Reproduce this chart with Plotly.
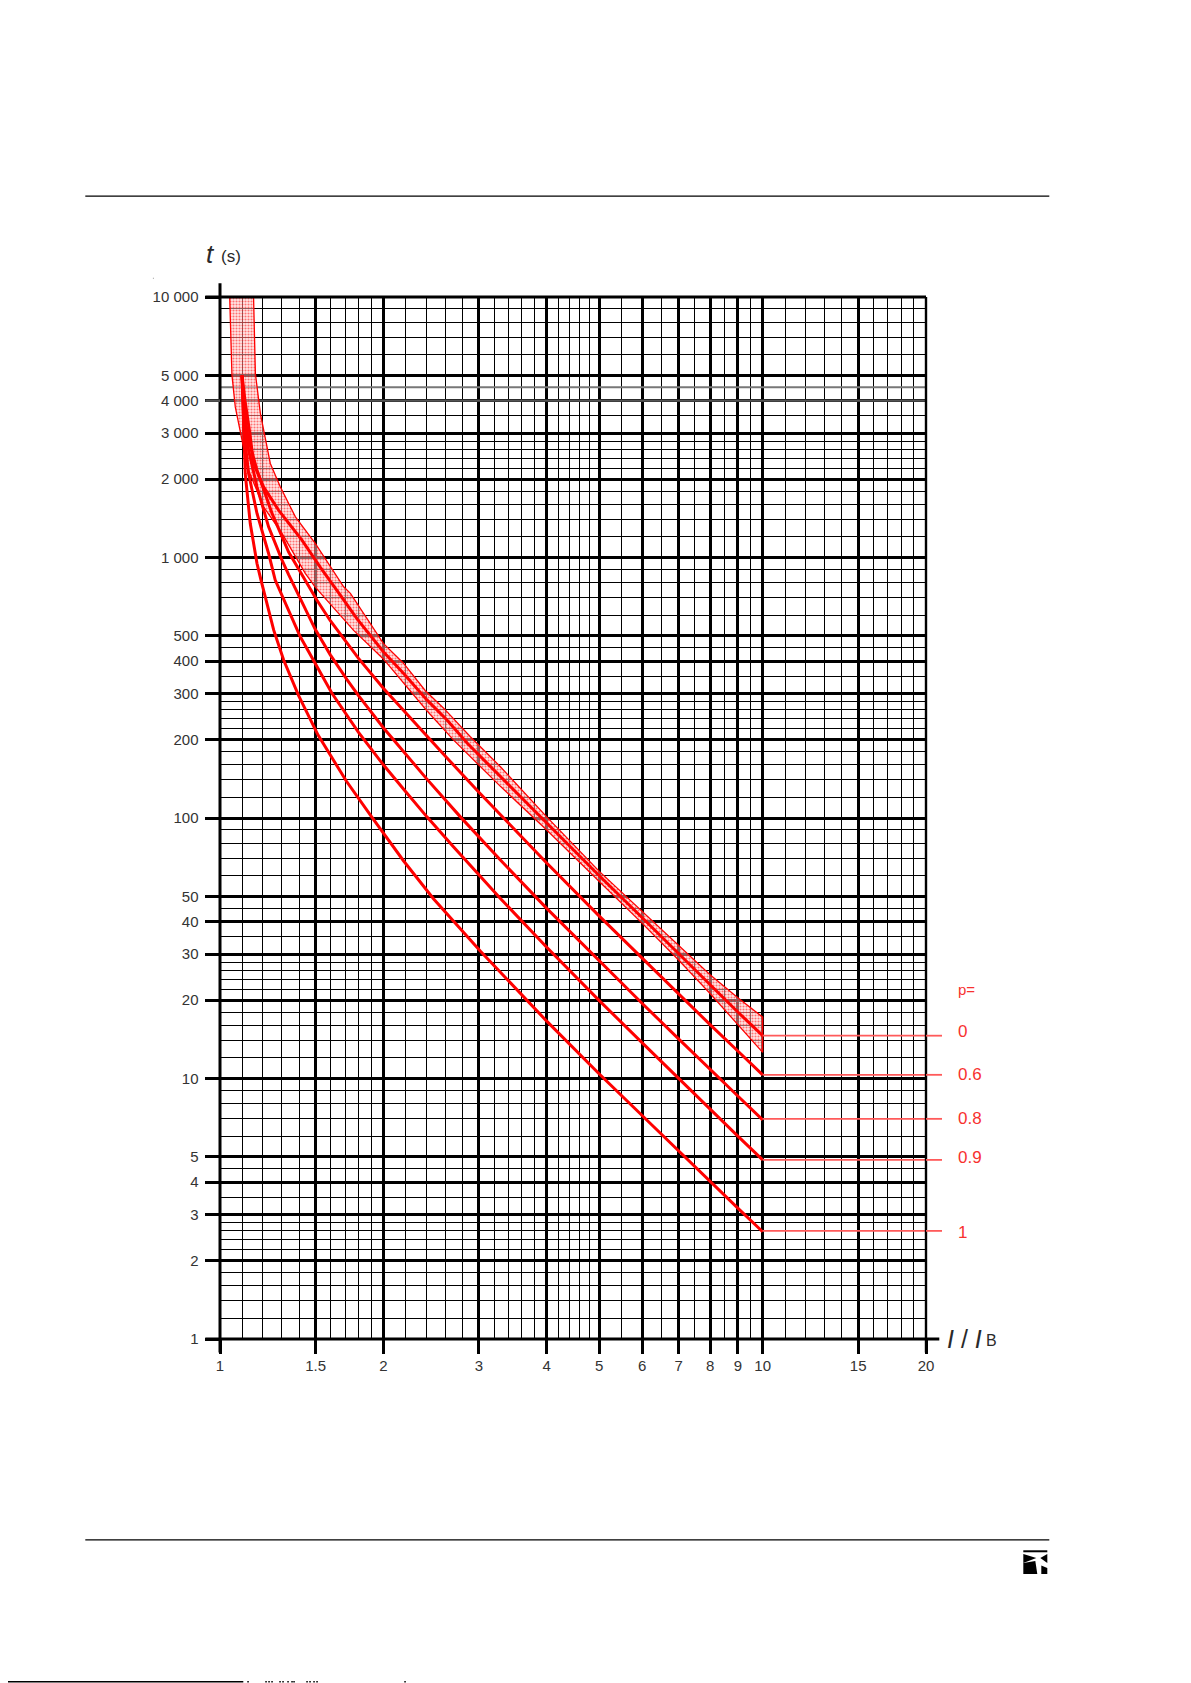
import math
import plotly.graph_objects as go

# page offset: the browser puts an 8px body margin round the figure
PAGE_OFFSET = 8
FIG_W = 1191 - PAGE_OFFSET
FIG_H = 1683 - PAGE_OFFSET

# plot box in page pixels
LEFT, RIGHT, TOP, BOTTOM = 219.7, 925.7, 296.7, 1339.3

# axis ticks
x_ticks = [1, 1.5, 2, 3, 4, 5, 6, 7, 8, 9, 10, 15, 20]
x_labels = ['1', '1.5', '2', '3', '4', '5', '6', '7', '8', '9', '10', '15', '20']
x_minor = [1.1, 1.2, 1.3, 1.4, 1.6, 1.7, 1.8, 1.9, 2.2, 2.4, 2.6, 2.8,
           3.2, 3.4, 3.6, 3.8, 4.2, 4.4, 4.6, 4.8, 5.5, 6.5, 7.5, 8.5, 9.5,
           11, 12, 13, 14, 16, 17, 18, 19]
y_ticks = [1, 2, 3, 4, 5, 10, 20, 30, 40, 50, 100, 200, 300, 400, 500,
           1000, 2000, 3000, 4000, 5000, 10000]
y_labels = ['1', '2', '3', '4', '5', '10', '20', '30', '40', '50', '100', '200', '300', '400', '500',
            '1 000', '2 000', '3 000', '4 000', '5 000', '10 000']
y_minor_mult = [1.2, 1.4, 1.6, 1.8, 2.2, 2.4, 2.6, 2.8, 3.5, 4.5, 6, 7, 8, 9]
y_minor = [m * d for d in (1, 10, 100, 1000) for m in y_minor_mult]

# tolerance band round the p=0 curve
band_top_x = [1.153, 1.162, 1.187, 1.203, 1.238, 1.292, 1.377, 1.498, 1.69, 1.739, 1.906, 2, 2.18,
              2.39, 2.583, 2.893, 3.29, 4, 5, 6, 7, 8, 9, 10]
band_top_t = [10000, 5083, 3570, 3081, 2296, 1866, 1432, 1132, 772, 728, 542, 468, 392,
              308, 264, 205, 157, 101, 62.4, 43.8, 32.4, 25, 20.4, 17.2]
band_bot_x = [1.042, 1.052, 1.067, 1.098, 1.122, 1.203, 1.301, 1.436, 1.498, 1.586, 1.763, 2, 2.21,
              2.406, 2.695, 3.02, 3.29, 4, 5, 6, 7, 8, 9, 10]
band_bot_t = [10000, 5012, 3784, 2820, 2228, 1565, 1237, 869, 770, 670, 525, 408, 319,
              258, 199, 157, 132, 90, 57, 39.4, 28.5, 21.2, 16.1, 12.6]

# curves, one per p value
p0_x = [1.098, 1.112, 1.135, 1.153, 1.203, 1.282, 1.416, 1.531, 1.666, 1.789, 2, 2.18, 2.406, 2.62,
        2.853, 3.29, 4, 5, 6, 7, 8, 9, 10]
p0_t = [5000, 4000, 3000, 2296, 1866, 1520, 1166, 917, 717, 581, 435, 359, 284, 238,
        194, 144, 95.6, 60, 41.4, 30.1, 22.9, 18, 14.6]
p06_x = [1.098, 1.106, 1.122, 1.136, 1.17, 1.247, 1.338, 1.436, 1.509, 1.597, 1.69, 1.8, 2, 2.21, 2.406,
         2.62, 3, 3.29, 4, 5, 6, 7, 8, 9, 10]
p06_t = [5000, 4000, 3000, 2700, 2163, 1476, 1050, 819, 685, 572, 487, 410, 315, 250, 206,
         170, 125.6, 102.6, 67.2, 42, 28.9, 21.1, 16.1, 12.75, 10.33]
p08_x = [1.098, 1.104, 1.117, 1.129, 1.17, 1.229, 1.301, 1.338, 1.498, 1.597, 1.714, 1.8, 2, 2.18, 2.406,
         2.773, 3, 3.29, 4, 5, 6, 7, 8, 9, 10]
p08_t = [5000, 4000, 3000, 2582, 1866, 1311, 977, 860, 530, 423, 340, 295, 222, 179, 141,
         101, 84.8, 68.8, 45, 28.2, 19.4, 14.2, 10.9, 8.57, 6.94]
p09_x = [1.098, 1.102, 1.108, 1.129, 1.17, 1.229, 1.264, 1.406, 1.498, 1.608, 1.8, 2, 2.18, 2.406,
         2.695, 3, 3.29, 4, 5, 6, 7, 8, 9, 10]
p09_t = [5000, 4000, 3000, 2101, 1476, 1036, 819, 496, 392, 301, 213, 160, 129, 101,
         77.4, 60.3, 49, 31.9, 19.9, 13.7, 10, 7.6, 6.01, 4.87]
p1_x = [1.098, 1.1, 1.103, 1.113, 1.137, 1.17, 1.19, 1.256, 1.31, 1.396, 1.516, 1.709, 1.906, 2, 2.18,
        2.476, 3.02, 4, 5, 6.21, 7, 8, 9, 10]
p1_t = [5000, 4400, 3300, 2101, 1350, 948, 819, 526, 404, 295, 208, 138.7, 100.5, 87.5, 68.4,
        48.9, 30.8, 16.6, 10.4, 6.72, 5.27, 4.03, 3.18, 2.58]

curves = [(p0_x, p0_t), (p06_x, p06_t), (p08_x, p08_t), (p09_x, p09_t), (p1_x, p1_t)]

# p legend at the right, with the level each leader sits on
p_labels = ['0', '0.6', '0.8', '0.9', '1']
p_levels = [14.6, 10.33, 7, 4.87, 2.6]
RED = '#ff0000'
LEADER_RED = '#ff5a5a'
LABEL_RED = '#f8312f'


def paper_x(px):
    return (px - LEFT) / (RIGHT - LEFT)


def paper_y(py):
    return (BOTTOM - py) / (BOTTOM - TOP)


def paper_line(x0, y0, x1, y1, width=1.2, color='black'):
    return dict(type='line', xref='paper', yref='paper', x0=paper_x(x0), y0=paper_y(y0),
                x1=paper_x(x1), y1=paper_y(y1), line=dict(color=color, width=width), layer='above')


def paper_poly(points, color='black'):
    path = 'M ' + ' L '.join(f'{paper_x(a)},{paper_y(b)}' for a, b in points) + ' Z'
    return dict(type='path', xref='paper', yref='paper', path=path,
                fillcolor=color, line=dict(width=0), layer='above')


def label(text, px, py, size, color='#2a2a2a', anchor='left'):
    return dict(text=text, xref='paper', yref='paper', x=paper_x(px), y=paper_y(py),
                xanchor=anchor, yanchor='middle', showarrow=False,
                font=dict(family='Liberation Sans', size=size, color=color))


fig = go.Figure()

# the two grey gridlines near the top of the scale
fig.add_trace(go.Scatter(x=[1, 20], y=[4500, 4500], mode='lines',
                         line=dict(color='#777777', width=2), hoverinfo='skip'))
fig.add_trace(go.Scatter(x=[1, 20], y=[4000, 4000], mode='lines',
                         line=dict(color='#555555', width=2.4), hoverinfo='skip'))

# tolerance band, stippled so the grid still shows through
fig.add_trace(go.Scatter(
    x=band_top_x + band_bot_x[::-1],
    y=band_top_t + band_bot_t[::-1],
    mode='lines',
    fill='toself',
    fillcolor='rgba(0,0,0,0)',
    fillpattern=dict(shape='.', fgcolor=RED, bgcolor='rgba(255,205,205,0.5)', size=3, solidity=0.38),
    line=dict(color=RED, width=1.3),
    hoverinfo='skip',
))

for cx, ct in curves:
    fig.add_trace(go.Scatter(x=cx, y=ct, mode='lines', line=dict(color=RED, width=3), hoverinfo='skip'))

# leaders inside the plot; the bit past x=20 is added as shapes below
for level in p_levels:
    fig.add_trace(go.Scatter(x=[10, 20], y=[level, level], mode='lines',
                             line=dict(color=LEADER_RED, width=1.8), hoverinfo='skip'))

fig.update_xaxes(
    type='log',
    range=[0, 1.30103],
    tickmode='array',
    tickvals=x_ticks,
    ticktext=x_labels,
    ticks='outside',
    ticklen=13.5,
    tickwidth=2.8,
    tickcolor='black',
    ticklabelstandoff=-1,
    showgrid=True,
    gridcolor='black',
    gridwidth=2.8,
    showline=False,
    zeroline=False,
    tickfont=dict(family='Liberation Sans', size=15, color='#333333'),
    minor=dict(tickmode='array', tickvals=x_minor, showgrid=True, gridcolor='black', gridwidth=1.1, ticks=''),
)
fig.update_yaxes(
    type='log',
    range=[0, 4],
    tickmode='array',
    tickvals=y_ticks,
    ticktext=y_labels,
    ticks='outside',
    ticklen=14.5,
    tickwidth=2.8,
    tickcolor='black',
    ticklabelstandoff=3,
    showgrid=True,
    gridcolor='black',
    gridwidth=2.8,
    showline=False,
    zeroline=False,
    tickfont=dict(family='Liberation Sans', size=15, color='#333333'),
    minor=dict(tickmode='array', tickvals=y_minor, showgrid=True, gridcolor='black', gridwidth=1.1, ticks=''),
)

# box edges and axis overshoot, page rules, logo and the clipped strip along the page foot
shapes = [
    paper_line(LEFT, 283, LEFT, 1352.7, width=3),
    paper_line(205, BOTTOM, 939, BOTTOM, width=3),
    paper_line(205, TOP, RIGHT, TOP, width=2.8),
    paper_line(RIGHT, TOP, RIGHT, 1352.7, width=2.4),
    paper_line(85, 195.7, 1049, 195.7, width=1.3),
    paper_line(85, 1540.3, 1049, 1540.3, width=1.3),
    paper_line(0, 1682.2, 243, 1682.2, width=1.6),
    paper_poly([(1023, 1550.7), (1047, 1550.7), (1047, 1552.7), (1023, 1552.7)]),
    paper_poly([(1023, 1554.5), (1036, 1558.5), (1023, 1563.5)]),
    paper_poly([(1047, 1554.5), (1040, 1558.5), (1047, 1563.5)]),
    paper_poly([(1023, 1563.5), (1035, 1561.5), (1037, 1574.5), (1023, 1574.5)]),
    paper_poly([(1041, 1566), (1047, 1568.5), (1047, 1574.5), (1041, 1574.5)]),
    paper_poly([(152.6, 277.5), (153.6, 277.5), (153.6, 278.5), (152.6, 278.5)], color='#999999'),
]
for speck in (247, 265, 268, 271, 279, 282, 287, 291, 293, 306, 309, 313, 316, 404):
    shapes.append(paper_line(speck, 1682.2, speck + 1.5, 1682.2, width=1.6))

# leader overshoot past the right edge of the plot
for level in p_levels:
    frac = math.log10(level) / 4
    shapes.append(dict(type='line', xref='paper', yref='paper', x0=1, x1=paper_x(941.7), y0=frac, y1=frac,
                       line=dict(color=LEADER_RED, width=1.8), layer='above'))

# grey tick on 4000
frac_4000 = math.log10(4000) / 4
shapes.append(dict(type='line', xref='paper', yref='paper', x0=paper_x(205), x1=0, y0=frac_4000, y1=frac_4000,
                   line=dict(color='#555555', width=2.4), layer='above'))

annotations = [
    label('<i>t</i>', 204, 254, 26),
    label('(s)', 219, 256.5, 17),
    label('<i>I</i> / <i>I</i>', 945, 1339, 25),
    label('B', 984, 1341, 16),
    label('p=', 956, 990, 15, color=LABEL_RED),
]
for text, py in zip(p_labels, [1031.7, 1075, 1118.7, 1158, 1233]):
    annotations.append(label(text, 956, py, 17, color=LABEL_RED))

fig.update_layout(
    width=FIG_W,
    height=FIG_H,
    autosize=False,
    showlegend=False,
    paper_bgcolor='white',
    plot_bgcolor='white',
    margin=dict(l=LEFT - PAGE_OFFSET, r=FIG_W - (RIGHT - PAGE_OFFSET),
                t=TOP - PAGE_OFFSET, b=FIG_H - (BOTTOM - PAGE_OFFSET), pad=0),
    shapes=shapes,
    annotations=annotations,
)

fig.write_html("out.html")
